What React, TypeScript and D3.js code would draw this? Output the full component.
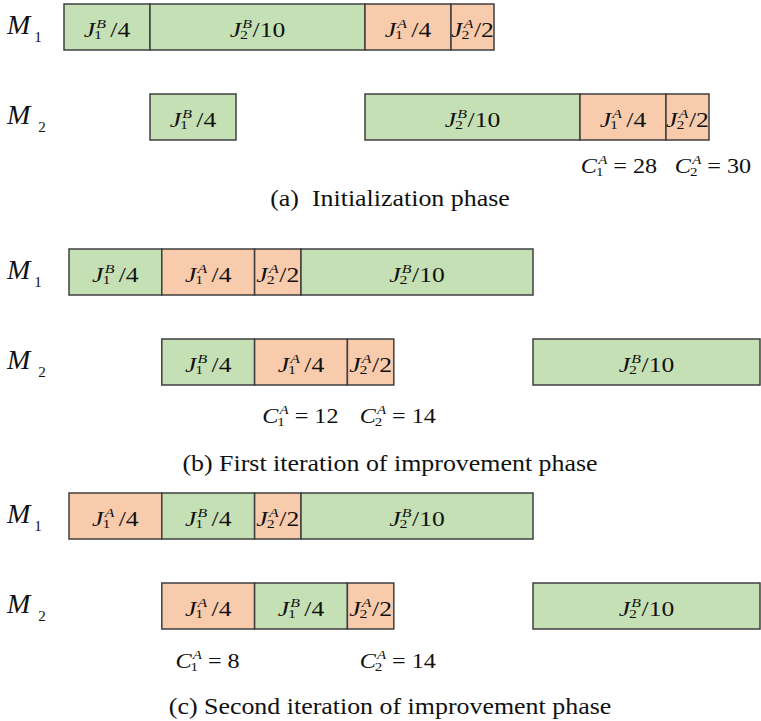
import React, { useRef, useEffect } from 'react';
import * as d3 from 'd3';

// blocks: machine, job type (A/B), job index, start time, processing time
const initSchedule = [
  { m: 1, type: 'B', job: 1, start: 0, p: 4 },
  { m: 1, type: 'B', job: 2, start: 4, p: 10 },
  { m: 1, type: 'A', job: 1, start: 14, p: 4 },
  { m: 1, type: 'A', job: 2, start: 18, p: 2 },
  { m: 2, type: 'B', job: 1, start: 4, p: 4 },
  { m: 2, type: 'B', job: 2, start: 14, p: 10 },
  { m: 2, type: 'A', job: 1, start: 24, p: 4 },
  { m: 2, type: 'A', job: 2, start: 28, p: 2 },
];

const firstIterSchedule = [
  { m: 1, type: 'B', job: 1, start: 0, p: 4 },
  { m: 1, type: 'A', job: 1, start: 4, p: 4 },
  { m: 1, type: 'A', job: 2, start: 8, p: 2 },
  { m: 1, type: 'B', job: 2, start: 10, p: 10 },
  { m: 2, type: 'B', job: 1, start: 4, p: 4 },
  { m: 2, type: 'A', job: 1, start: 8, p: 4 },
  { m: 2, type: 'A', job: 2, start: 12, p: 2 },
  { m: 2, type: 'B', job: 2, start: 20, p: 10 },
];

const secondIterSchedule = [
  { m: 1, type: 'A', job: 1, start: 0, p: 4 },
  { m: 1, type: 'B', job: 1, start: 4, p: 4 },
  { m: 1, type: 'A', job: 2, start: 8, p: 2 },
  { m: 1, type: 'B', job: 2, start: 10, p: 10 },
  { m: 2, type: 'A', job: 1, start: 4, p: 4 },
  { m: 2, type: 'B', job: 1, start: 8, p: 4 },
  { m: 2, type: 'A', job: 2, start: 12, p: 2 },
  { m: 2, type: 'B', job: 2, start: 20, p: 10 },
];

// completion times of type-A jobs (C1A, C2A)
const initCompletion = [28, 30];
const firstIterCompletion = [12, 14];
const secondIterCompletion = [8, 14];

const machines = [1, 2];

const captions = [
  '(a)  Initialization phase',
  '(b) First iteration of improvement phase',
  '(c) Second iteration of improvement phase',
];

const W = 761;
const H = 721;
const FONT = '"Liberation Serif", "Times New Roman", Times, serif';
const colors = { A: '#f8cbad', B: '#c5e0b4' };

const panels = [
  { schedule: initSchedule, completion: initCompletion, caption: captions[0], domain: [0, 30], range: [64, 709], top: 4, labelY: 173, captionY: 206 },
  { schedule: firstIterSchedule, completion: firstIterCompletion, caption: captions[1], domain: [0, 20], range: [69, 533], top: 249, labelY: 423, captionY: 471 },
  { schedule: secondIterSchedule, completion: secondIterCompletion, caption: captions[2], domain: [0, 20], range: [69, 533], top: 493, labelY: 668, captionY: 714 },
];

const rowH = 46;

// base letter with stacked super/subscript, then plain text; one <text>, centred on cx
function scriptLabel(parent, base, sup, sub, rest, cx, y, size, gap, sx) {
  const small = size * 0.62;
  const t = parent.append('text')
    .style('font-family', FONT)
    .style('white-space', 'pre')
    .attr('fill', '#111')
    .attr('font-size', size);
  const b = t.append('tspan').attr('font-style', 'italic').text(base);
  const sp = t.append('tspan').attr('font-style', 'italic').attr('font-size', small).text(sup);
  const sb = t.append('tspan').attr('font-size', small).text(sub);
  const r = t.append('tspan').text(rest);

  const bw = b.node().getComputedTextLength();
  const spW = sp.node().getComputedTextLength();
  const sbW = sb.node().getComputedTextLength();
  const rW = r.node().getComputedTextLength();

  const d1 = size * 0.05;
  const d2 = size * 0.04;
  const sw = Math.max(d1 + spW, sbW - d2);

  sp.attr('dx', d1).attr('dy', -size * 0.42);
  sb.attr('dx', -(d1 + spW) - d2).attr('dy', size * 0.54);
  r.attr('dx', bw + sw + gap - (bw - d2 + sbW)).attr('dy', -size * 0.12);

  const total = bw + sw + gap + rW;
  t.attr('transform', `translate(${cx - (total * sx) / 2},${y}) scale(${sx},1)`);
}

export default function App() {
  const svgRef = useRef(null);

  useEffect(() => {
    const svg = d3.select(svgRef.current);
    svg.selectAll('*').remove();

    svg.append('rect').attr('width', W).attr('height', H).attr('fill', '#fff');

    panels.forEach((panel) => {
      const x = d3.scaleLinear().domain(panel.domain).range(panel.range);
      const y = d3.scalePoint().domain(machines).range([panel.top, panel.top + 90]);

      const g = svg.append('g');

      // machine labels
      machines.forEach((m) => {
        const t = g.append('text')
          .attr('x', 7)
          .attr('y', y(m) + 29.5)
          .style('font-family', FONT)
          .attr('fill', '#111');
        t.append('tspan').attr('font-style', 'italic').attr('font-size', 28).text('M');
        t.append('tspan').attr('font-size', 15).attr('dx', m === 1 ? 4 : 8).attr('dy', 8).text(m);
      });

      // job blocks
      g.selectAll('rect.job')
        .data(panel.schedule)
        .enter()
        .append('rect')
        .attr('class', 'job')
        .attr('x', (d) => x(d.start))
        .attr('y', (d) => y(d.m))
        .attr('width', (d) => Math.min(x(d.start + d.p), W - 1) - x(d.start))
        .attr('height', rowH)
        .attr('fill', (d) => colors[d.type])
        .attr('stroke', '#3f3f3f')
        .attr('stroke-width', 1.5);

      panel.schedule.forEach((d) => {
        const x0 = x(d.start);
        const x1 = Math.min(x(d.start + d.p), W - 1);
        scriptLabel(g, 'J', d.type, String(d.job), '/' + d.p, (x0 + x1) / 2, y(d.m) + 32.5, 21, d.p === 4 ? 3.5 : 0.5, 1.22);
      });

      // completion times of type-A jobs
      panel.completion.forEach((c, i) => {
        const cx = i === 0 ? x(c) - 47 : x(c) + 4;
        scriptLabel(g, 'C', 'A', String(i + 1), ' = ' + c, cx, panel.labelY, 21, 0, 1.15);
      });

      g.append('text')
        .attr('x', 390)
        .attr('y', panel.captionY)
        .attr('text-anchor', 'middle')
        .style('font-family', FONT)
        .attr('font-size', 24)
        .attr('fill', '#111')
        .style('white-space', 'pre')
        .attr('transform', 'translate(390,0) scale(1.08,1) translate(-390,0)')
        .text(panel.caption);
    });
  }, []);

  return (
    <svg
      ref={svgRef}
      width={W}
      height={H}
      style={{ position: 'absolute', left: 0, top: 0, background: '#fff' }}
    />
  );
}
